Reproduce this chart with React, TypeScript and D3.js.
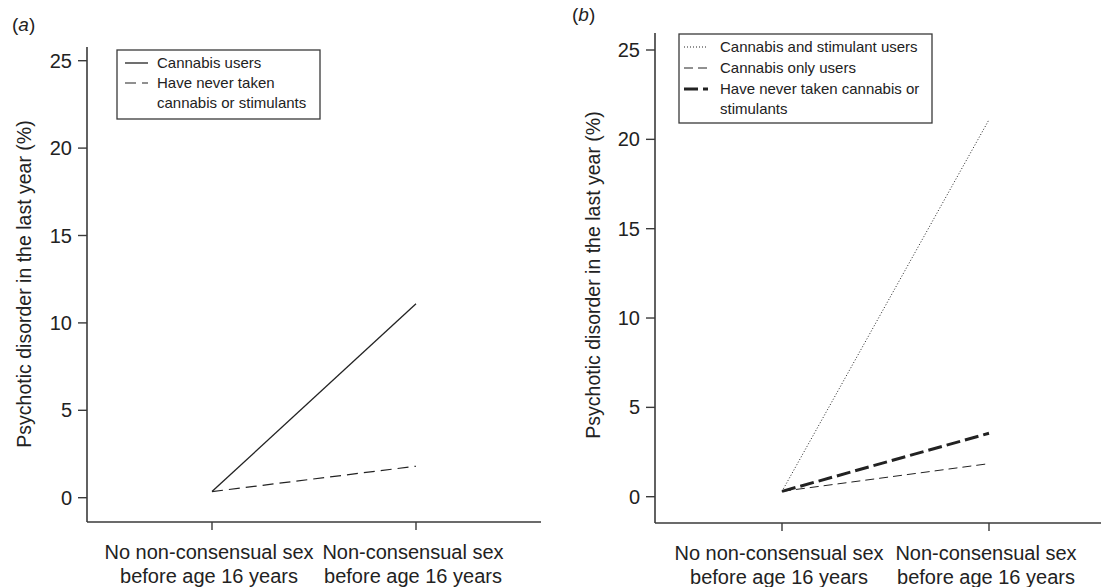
import React from 'react'
import * as d3 from 'd3'

// categories shared by both panels
const categories = ['No non-consensual sex|before age 16 years', 'Non-consensual sex|before age 16 years']
const yTicks = [0, 5, 10, 15, 20, 25]

// panel (a)
const cannabisUsersA = [0.35, 11.1]
const neverTakenA = [0.35, 1.8]

// panel (b)
const cannabisStimB = [0.3, 21.1]
const cannabisOnlyB = [0.3, 1.85]
const neverTakenB = [0.3, 3.55]

const FONT = '"Liberation Sans", Arial, Helvetica, sans-serif'
const INK = '#222'
const AXIS = '#3a3a3a'

type Series = { name: string[]; values: number[]; dash: string; width: number }

type PanelProps = {
  tag: string
  tagX: number
  tagY: number
  axisX: number
  axisTop: number
  axisBottom: number
  axisRight: number
  y0: number
  y25: number
  xPoints: [number, number]
  labelX: number
  labelY: number
  series: Series[]
  legend: { x: number; y: number; w: number; h: number; rowY: number[]; sampleX: [number, number]; textX: number }
}

const Panel = (p: PanelProps) => {
  const y = d3.scaleLinear().domain([0, 25]).range([p.y0, p.y25])
  const x = d3.scalePoint<string>().domain(categories).range(p.xPoints)
  const line = d3
    .line<number>()
    .x((_, i) => x(categories[i]) as number)
    .y(d => y(d))

  // legend rows: each series may wrap to two lines
  let row = 0
  const legendItems = p.series.map(s => {
    const start = row
    row += s.name.length
    return { s, start }
  })

  return (
    <g>
      <text x={p.tagX} y={p.tagY} fontSize={19} fill={INK} fontFamily={FONT}>
        (<tspan fontStyle='italic'>{p.tag}</tspan>)
      </text>

      {/* y axis */}
      <line x1={p.axisX} x2={p.axisX} y1={p.axisTop} y2={p.axisBottom} stroke={AXIS} strokeWidth={1.6} />
      {yTicks.map(t => (
        <g key={t}>
          <line x1={p.axisX - 9} x2={p.axisX} y1={y(t)} y2={y(t)} stroke={AXIS} strokeWidth={1.4} />
          <text
            x={p.axisX - 15}
            y={y(t)}
            dy='0.35em'
            textAnchor='end'
            fontSize={20}
            fill={INK}
            fontFamily={FONT}
          >
            {t}
          </text>
        </g>
      ))}
      <text
        transform={`translate(${p.labelX},${p.labelY}) rotate(-90)`}
        textAnchor='middle'
        dy='0.35em'
        fontSize={19.5}
        fill={INK}
        fontFamily={FONT}
      >
        Psychotic disorder in the last year (%)
      </text>

      {/* x axis */}
      <line x1={p.axisX} x2={p.axisRight} y1={p.axisBottom} y2={p.axisBottom} stroke={AXIS} strokeWidth={1.6} />
      {categories.map(c => (
        <g key={c}>
          <line x1={x(c)} x2={x(c)} y1={p.axisBottom} y2={p.axisBottom + 8} stroke={AXIS} strokeWidth={1.4} />
          {c.split('|').map((l, i) => (
            <text
              key={i}
              x={(x(c) as number) - 3}
              y={p.axisBottom + 37 + i * 24}
              textAnchor='middle'
              fontSize={20}
              fill={INK}
              fontFamily={FONT}
            >
              {l}
            </text>
          ))}
        </g>
      ))}

      {/* series */}
      {p.series.map((s, i) => (
        <path
          key={i}
          d={line(s.values) as string}
          fill='none'
          stroke={INK}
          strokeWidth={s.width}
          strokeDasharray={s.dash}
        />
      ))}

      {/* legend */}
      <rect
        x={p.legend.x}
        y={p.legend.y}
        width={p.legend.w}
        height={p.legend.h}
        fill='white'
        stroke={AXIS}
        strokeWidth={1.3}
      />
      {legendItems.map(({ s, start }, i) => (
        <g key={i}>
          <line
            x1={p.legend.sampleX[0]}
            x2={p.legend.sampleX[1]}
            y1={p.legend.rowY[start]}
            y2={p.legend.rowY[start]}
            stroke={INK}
            strokeWidth={s.width}
            strokeDasharray={s.dash}
          />
          {s.name.map((l, j) => (
            <text
              key={j}
              x={p.legend.textX}
              y={p.legend.rowY[start + j]}
              dy='0.35em'
              fontSize={15}
              fill={INK}
              fontFamily={FONT}
            >
              {l}
            </text>
          ))}
        </g>
      ))}
    </g>
  )
}

const App = () => {
  return (
    <svg width={1101} height={587} style={{ position: 'absolute', left: 0, top: 0, background: 'white' }}>
      <Panel
        tag='a'
        tagX={12}
        tagY={31}
        axisX={87}
        axisTop={47}
        axisBottom={522}
        axisRight={541}
        y0={497.7}
        y25={60.7}
        xPoints={[212, 416]}
        labelX={24}
        labelY={284}
        series={[
          { name: ['Cannabis users'], values: cannabisUsersA, dash: '', width: 1.3 },
          { name: ['Have never taken', 'cannabis or stimulants'], values: neverTakenA, dash: '11,6', width: 1.2 }
        ]}
        legend={{ x: 117, y: 50, w: 203, h: 69, rowY: [63, 83, 103], sampleX: [125, 148], textX: 157 }}
      />
      <Panel
        tag='b'
        tagX={572}
        tagY={21}
        axisX={655}
        axisTop={33}
        axisBottom={523}
        axisRight={1101}
        y0={496.7}
        y25={50}
        xPoints={[782, 989]}
        labelX={593}
        labelY={275}
        series={[
          { name: ['Cannabis and stimulant users'], values: cannabisStimB, dash: '1,2', width: 1 },
          { name: ['Cannabis only users'], values: cannabisOnlyB, dash: '9,5', width: 1 },
          {
            name: ['Have never taken cannabis or', 'stimulants'],
            values: neverTakenB,
            dash: '14,5',
            width: 3
          }
        ]}
        legend={{ x: 679, y: 34, w: 253, h: 89, rowY: [47, 68, 89, 109], sampleX: [684, 708], textX: 720 }}
      />
    </svg>
  )
}

export default App
